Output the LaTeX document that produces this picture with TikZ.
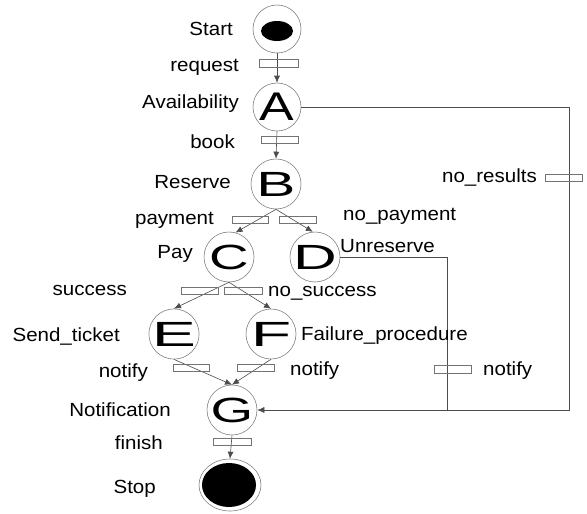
\documentclass[tikz,border=0pt]{standalone}
\usepackage{fontspec}
\setmainfont{Liberation Sans}[FakeStretch=1.08]
\usetikzlibrary{arrows.meta,shapes.geometric}
\newcommand{\bigletter}[2]{\scalebox{#1}[1]{#2}}
\begin{document}
\begin{tikzpicture}[x=1pt,y=-1pt,
  place/.style={circle,draw=black!50,line width=0.6pt,minimum size=50pt,inner sep=0pt,
    font=\fontsize{35}{35}\selectfont},
  trans/.style={rectangle,draw=black!55,line width=0.6pt,minimum width=37pt,minimum height=7pt,inner sep=0pt},
  lbl/.style={inner sep=0pt,font=\fontsize{19}{19}\selectfont},
  arc/.style={draw=black!70,line width=0.6pt},
  flow/.style={arc,-{Latex[length=7pt,width=6pt]}},
]
\useasboundingbox (0,0) rectangle (587,514);

% places
\node[place,minimum size=48pt] (start) at (277,29) {};
\fill (277,31) ellipse [x radius=16pt,y radius=10pt];
\node[place,minimum size=48pt,font=\fontsize{40}{40}\selectfont] (A) at (277,107) {\bigletter{1.2}{A}};
\node[place] (B) at (276,184) {\bigletter{1.55}{B}};
\node[place] (C) at (229,257) {\bigletter{1.45}{C}};
\node[place] (D) at (315,257) {\bigletter{1.6}{D}};
\node[place] (E) at (174,334) {\bigletter{1.75}{E}};
\node[place] (F) at (271,334) {\bigletter{1.75}{F}};
\node[place] (G) at (232,410) {\bigletter{1.45}{G}};
\node[ellipse,draw=black!50,line width=0.6pt,minimum width=62pt,minimum height=52pt,inner sep=0pt] (stop) at (230,485) {};
\fill (229,485) ellipse [x radius=27pt,y radius=22pt];

% corner points of the orthogonal returns
\coordinate (ar) at (569,107);
\coordinate (ab) at (569,410);
\coordinate (dr) at (447,257);
\coordinate (db) at (447,410);

% arcs
\draw[flow] (start.south) -- (A.north);
\draw[flow] (A.south) -- (B.north);
\draw[flow] (B.south) -- (C.75);
\draw[flow] (B.south) -- (D.95);
\draw[flow] (C.south) -- (E.north);
\draw[flow] (C.south) -- (F.north);
\draw[flow] (E.south) -- (G.north);
\draw[flow] (F.south) -- (G.north);
\draw[flow] (G.south) -- (stop.north);
\draw[flow] (A.east) -- (ar) -- (ab) -- (G.east);
\draw[arc] (D.east) -- (dr) -- (db);

% transitions
\node[trans,minimum width=39pt,minimum height=8pt] (t1) at (279,63) {};
\node[trans] (t2) at (280,140) {};
\node[trans,minimum width=36pt] (t3) at (250,220) {};
\node[trans] (t4) at (298,220) {};
\node[trans] (t5) at (564,178) {};
\node[trans] (t6) at (200,291) {};
\node[trans,minimum width=38pt] (t7) at (243,291) {};
\node[trans,minimum width=36pt] (t8) at (191,368) {};
\node[trans] (t9) at (256,368) {};
\node[trans,minimum height=8pt] (t10) at (453,369) {};
\node[trans,minimum width=38pt] (t11) at (232,442) {};

% labels
\node[lbl,anchor=base east] (lstart) at (233,35) {Start};
\node[lbl,anchor=base east] (lreq) at (239,71) {request};
\node[lbl,anchor=base east] (lavail) at (239,108) {Availability};
\node[lbl,anchor=base east] (lbook) at (235,148) {book};
\node[lbl,anchor=base east] (lres) at (231,188) {Reserve};
\node[lbl,anchor=base east] (lpaym) at (214,224) {payment};
\node[lbl,anchor=base west] (lnopay) at (343,220) {no\_payment};
\node[lbl,anchor=base east] (lpay) at (193,258) {Pay};
\node[lbl,anchor=base west] (lunres) at (340,252) {Unreserve};
\node[lbl,anchor=base east] (lsucc) at (127,295) {success};
\node[lbl,anchor=base west] (lnosucc) at (268,296) {no\_success};
\node[lbl,anchor=base east] (lsend) at (120,341) {Send\_ticket};
\node[lbl,anchor=base west] (lfail) at (301,340) {Failure\_procedure};
\node[lbl,anchor=base east] (ln1) at (148,377) {notify};
\node[lbl,anchor=base west] (ln2) at (290,375) {notify};
\node[lbl,anchor=base west] (ln3) at (483,375) {notify};
\node[lbl,anchor=base east] (lnores) at (537,182) {no\_results};
\node[lbl,anchor=base east] (lnotif) at (171,416) {Notification};
\node[lbl,anchor=base east] (lfin) at (163,449) {finish};
\node[lbl,anchor=base east] (lstop) at (156,493) {Stop};
\end{tikzpicture}
\end{document}
